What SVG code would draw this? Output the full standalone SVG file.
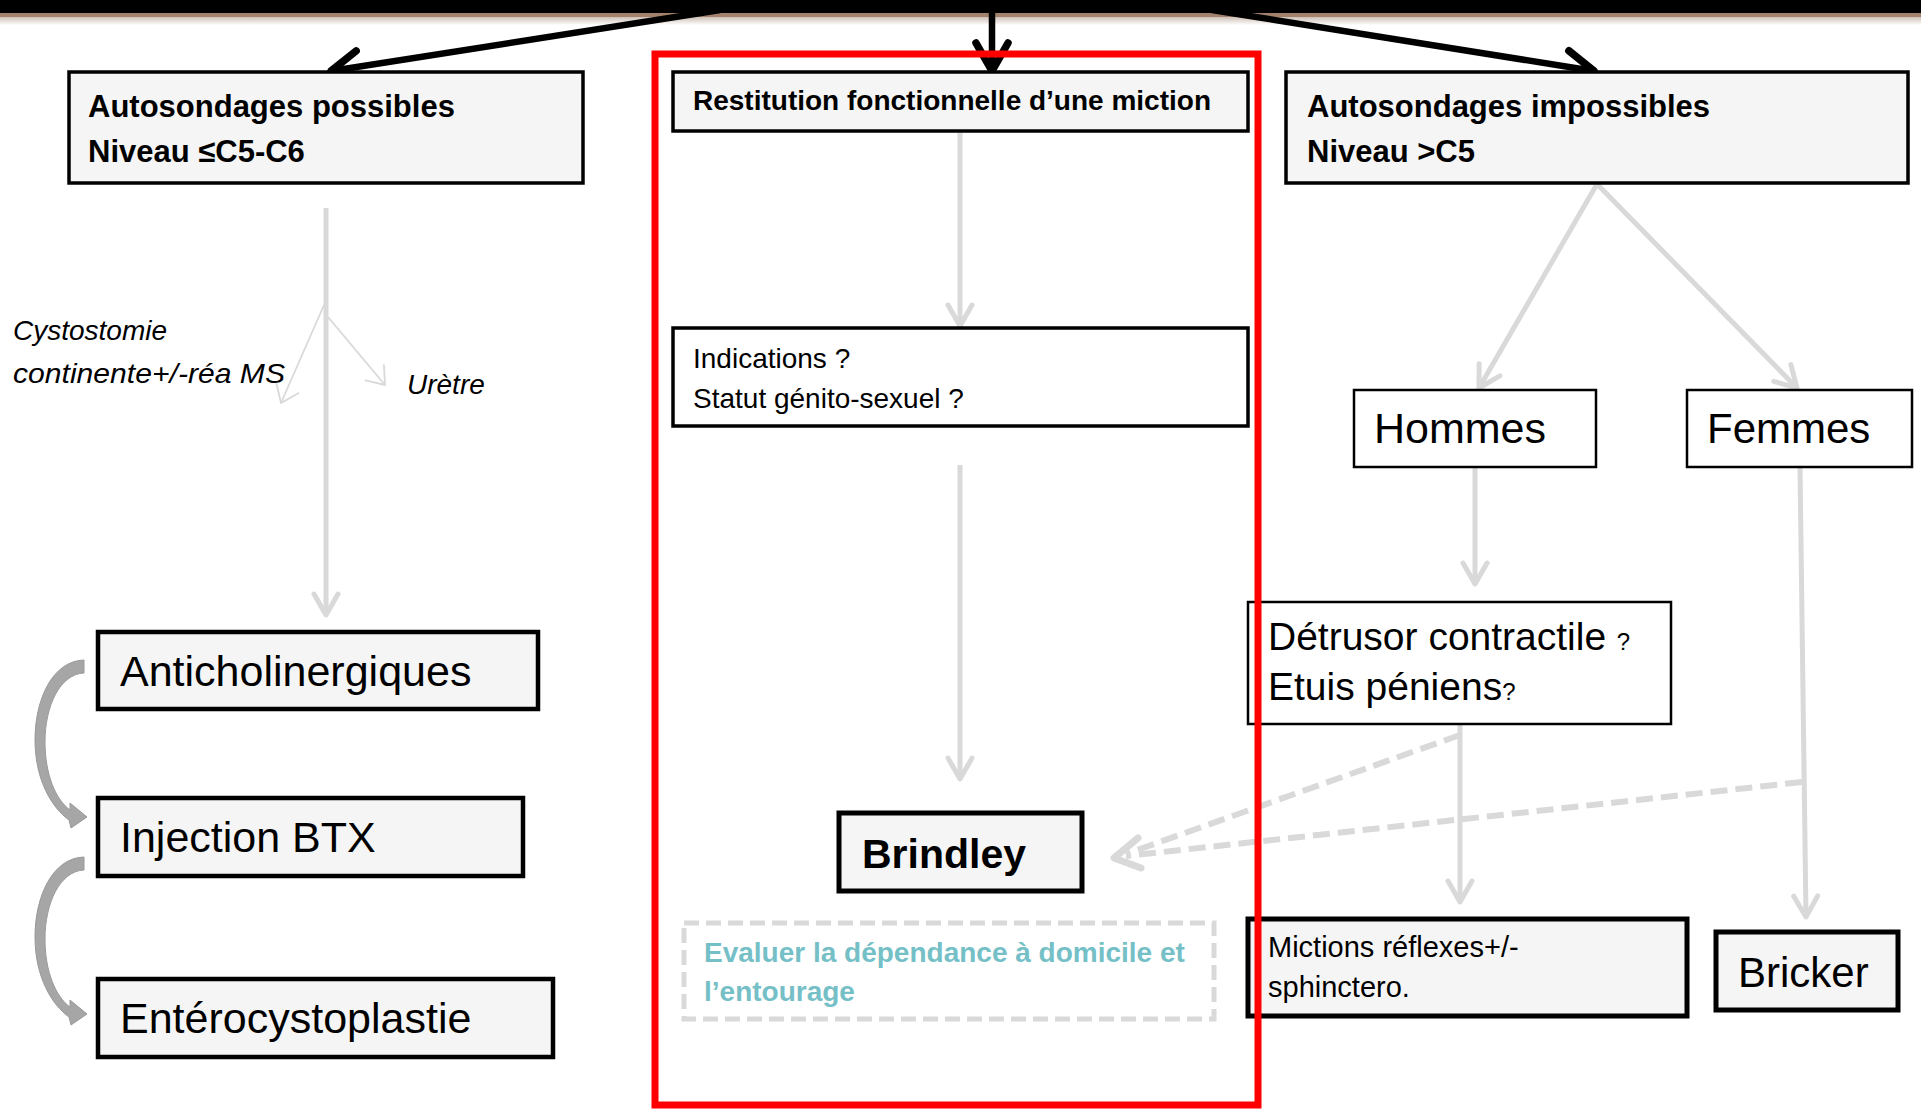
<svg xmlns="http://www.w3.org/2000/svg" width="1921" height="1110" viewBox="0 0 1921 1110">
<defs>
<style>
.box{fill:#f5f5f5;stroke:#000;stroke-width:3.5}
.wbox{fill:#fff;stroke:#000;stroke-width:2.5}
.thick{stroke-width:5}
.t{font-family:"Liberation Sans",Arial,sans-serif;fill:#000}
.b{font-weight:bold}
.it{font-style:italic}
.blk{fill:none;stroke:#000;stroke-width:6.5}
.gry{fill:none;stroke:#d9d9d9;stroke-width:5}
.thin{fill:none;stroke:#d9d9d9;stroke-width:1.8}
.dash{fill:none;stroke:#d9d9d9;stroke-width:6;stroke-dasharray:17 8}
</style>
<marker id="mBlk" markerUnits="userSpaceOnUse" viewBox="-34 -22 40 44" refX="0" refY="0" markerWidth="40" markerHeight="44" orient="auto">
<path d="M-28,-16 L0,0 L-28,16" fill="none" stroke="#000" stroke-width="7.5" stroke-linecap="round" stroke-linejoin="round"/>
</marker>
<marker id="mGry" markerUnits="userSpaceOnUse" viewBox="-28 -18 32 36" refX="0" refY="0" markerWidth="32" markerHeight="36" orient="auto">
<path d="M-21,-12 L0,0 L-21,12" fill="none" stroke="#d9d9d9" stroke-width="5" stroke-linecap="round" stroke-linejoin="round"/>
</marker>
<marker id="mThin" markerUnits="userSpaceOnUse" viewBox="-22 -16 26 32" refX="0" refY="0" markerWidth="26" markerHeight="32" orient="auto">
<path d="M-16,-12 L0,0 L-16,12" fill="none" stroke="#d9d9d9" stroke-width="1.8" stroke-linecap="round" stroke-linejoin="round"/>
</marker>
<linearGradient id="shadow" x1="0" y1="0" x2="0" y2="1">
<stop offset="0" stop-color="#cdbfb5"/>
<stop offset="1" stop-color="#ffffff"/>
</linearGradient>
</defs>
<rect x="0" y="0" width="1921" height="1110" fill="#fff"/>
<g id="topbar">
<rect x="0" y="0" width="1921" height="13" fill="#000"/>
<rect x="0" y="13" width="1921" height="4" fill="#a3826d"/>
<rect x="0" y="17" width="1921" height="8" fill="url(#shadow)"/>
</g>

<g id="connectors">
<path class="blk" d="M720,10 L331,71" marker-end="url(#mBlk)"/>
<path class="blk" d="M992,10 L992,71" marker-end="url(#mBlk)"/>
<path class="blk" d="M1212,10 L1594,71" marker-end="url(#mBlk)"/>
<path class="gry" d="M960,133 L960,326" marker-end="url(#mGry)"/>
<path class="gry" d="M960,465 L960,779" marker-end="url(#mGry)"/>
<path class="gry" d="M326,208 L326,615" marker-end="url(#mGry)"/>
<path class="thin" d="M324,305 L281,403" marker-end="url(#mThin)"/>
<path class="thin" d="M328,317 L385,385" marker-end="url(#mThin)"/>
<path class="gry" d="M1597,184 L1479,388" marker-end="url(#mGry)"/>
<path class="gry" d="M1597,184 L1797,388" marker-end="url(#mGry)"/>
<path class="gry" d="M1475,468 L1475,584" marker-end="url(#mGry)"/>
<path class="gry" d="M1460,725 L1460,902" marker-end="url(#mGry)"/>
<path class="gry" d="M1800,468 L1806,917" marker-end="url(#mGry)"/>
<path class="dash" d="M1460,735 L1126,854"/>
<path class="dash" d="M1802,782 L1126,856"/>
<polyline points="1138,838 1114,858 1141,868" fill="none" stroke="#d9d9d9" stroke-width="7" stroke-linecap="round" stroke-linejoin="round"/>
<path id="curve1" d="M84,660 C52,661 35,700 35,740 C35,780 52,808 69,820 L71,828 L87,817 L70,803 L70,810 C56,800 45,775 45,742 C45,706 60,674 84,673 Z" fill="#a6a6a6" stroke="#9a9a9a" stroke-width="1"/>
<path id="curve2" transform="translate(0,197)" d="M84,660 C52,661 35,700 35,740 C35,780 52,808 69,820 L71,828 L87,817 L70,803 L70,810 C56,800 45,775 45,742 C45,706 60,674 84,673 Z" fill="#a6a6a6" stroke="#9a9a9a" stroke-width="1"/>
</g>

<g id="n-auto-possibles">
<rect class="box" x="69" y="72" width="514" height="111"/>
<text class="t b" x="88" y="117" font-size="31">Autosondages possibles</text>
<text class="t b" x="88" y="162" font-size="31">Niveau ≤C5-C6</text>
</g>
<g id="n-restitution">
<rect class="box" x="673" y="72" width="575" height="59"/>
<text class="t b" x="693" y="110" font-size="28">Restitution fonctionnelle d’une miction</text>
</g>
<g id="n-indications">
<rect class="box" style="fill:#fff" x="673" y="328" width="575" height="98"/>
<text class="t" x="693" y="368" font-size="28">Indications ?</text>
<text class="t" x="693" y="408" font-size="28">Statut génito-sexuel ?</text>
</g>
<g id="n-brindley">
<rect class="box thick" x="839" y="813" width="243" height="78"/>
<text class="t b" x="862" y="868" font-size="41">Brindley</text>
</g>
<g id="n-evaluer">
<rect x="684" y="923" width="530" height="96" fill="#fff" stroke="#d9d9d9" stroke-width="5" stroke-dasharray="15 7"/>
<text class="t b" x="704" y="962" font-size="28" style="fill:#75bfc7">Evaluer la dépendance à domicile et</text>
<text class="t b" x="704" y="1001" font-size="28" style="fill:#75bfc7">l’entourage</text>
</g>
<g id="n-auto-impossibles">
<rect class="box" x="1286" y="72" width="622" height="111"/>
<text class="t b" x="1307" y="117" font-size="31">Autosondages impossibles</text>
<text class="t b" x="1307" y="162" font-size="31">Niveau &gt;C5</text>
</g>
<g id="n-hommes">
<rect class="wbox" x="1354" y="390" width="242" height="77"/>
<text class="t" x="1374" y="443" font-size="43">Hommes</text>
</g>
<g id="n-femmes">
<rect class="wbox" x="1687" y="390" width="225" height="77"/>
<text class="t" x="1707" y="443" font-size="42">Femmes</text>
</g>
<g id="n-detrusor">
<rect class="wbox" x="1248" y="602" width="423" height="122"/>
<text class="t" x="1268" y="650" font-size="39">Détrusor contractile<tspan font-size="24" dx="4"> ?</tspan></text>
<text class="t" x="1268" y="700" font-size="39">Etuis péniens<tspan font-size="24">?</tspan></text>
</g>
<g id="n-mictions">
<rect class="box thick" x="1248" y="919" width="439" height="97"/>
<text class="t" x="1268" y="957" font-size="29">Mictions réflexes+/-</text>
<text class="t" x="1268" y="997" font-size="29">sphinctero.</text>
</g>
<g id="n-bricker">
<rect class="box thick" x="1716" y="932" width="182" height="78"/>
<text class="t" x="1738" y="987" font-size="42">Bricker</text>
</g>
<g id="n-anticholinergiques">
<rect class="box" style="stroke-width:4.5" x="98" y="632" width="440" height="77"/>
<text class="t" x="120" y="686" font-size="43">Anticholinergiques</text>
</g>
<g id="n-btx">
<rect class="box" style="stroke-width:4.5" x="98" y="798" width="425" height="78"/>
<text class="t" x="120" y="852" font-size="43">Injection BTX</text>
</g>
<g id="n-entero">
<rect class="box" style="stroke-width:4.5" x="98" y="979" width="455" height="78"/>
<text class="t" x="120" y="1033" font-size="43">Entérocystoplastie</text>
</g>
<g id="labels">
<text class="t it" x="13" y="340" font-size="28">Cystostomie</text>
<text class="t it" x="13" y="383" font-size="28" textLength="272" lengthAdjust="spacingAndGlyphs">continente+/-réa MS</text>
<text class="t it" x="407" y="394" font-size="28">Urètre</text>
</g>
<g id="red-frame">
<rect x="655" y="54" width="603" height="1051" fill="none" stroke="#ff0000" stroke-width="7"/>
</g>
</svg>
